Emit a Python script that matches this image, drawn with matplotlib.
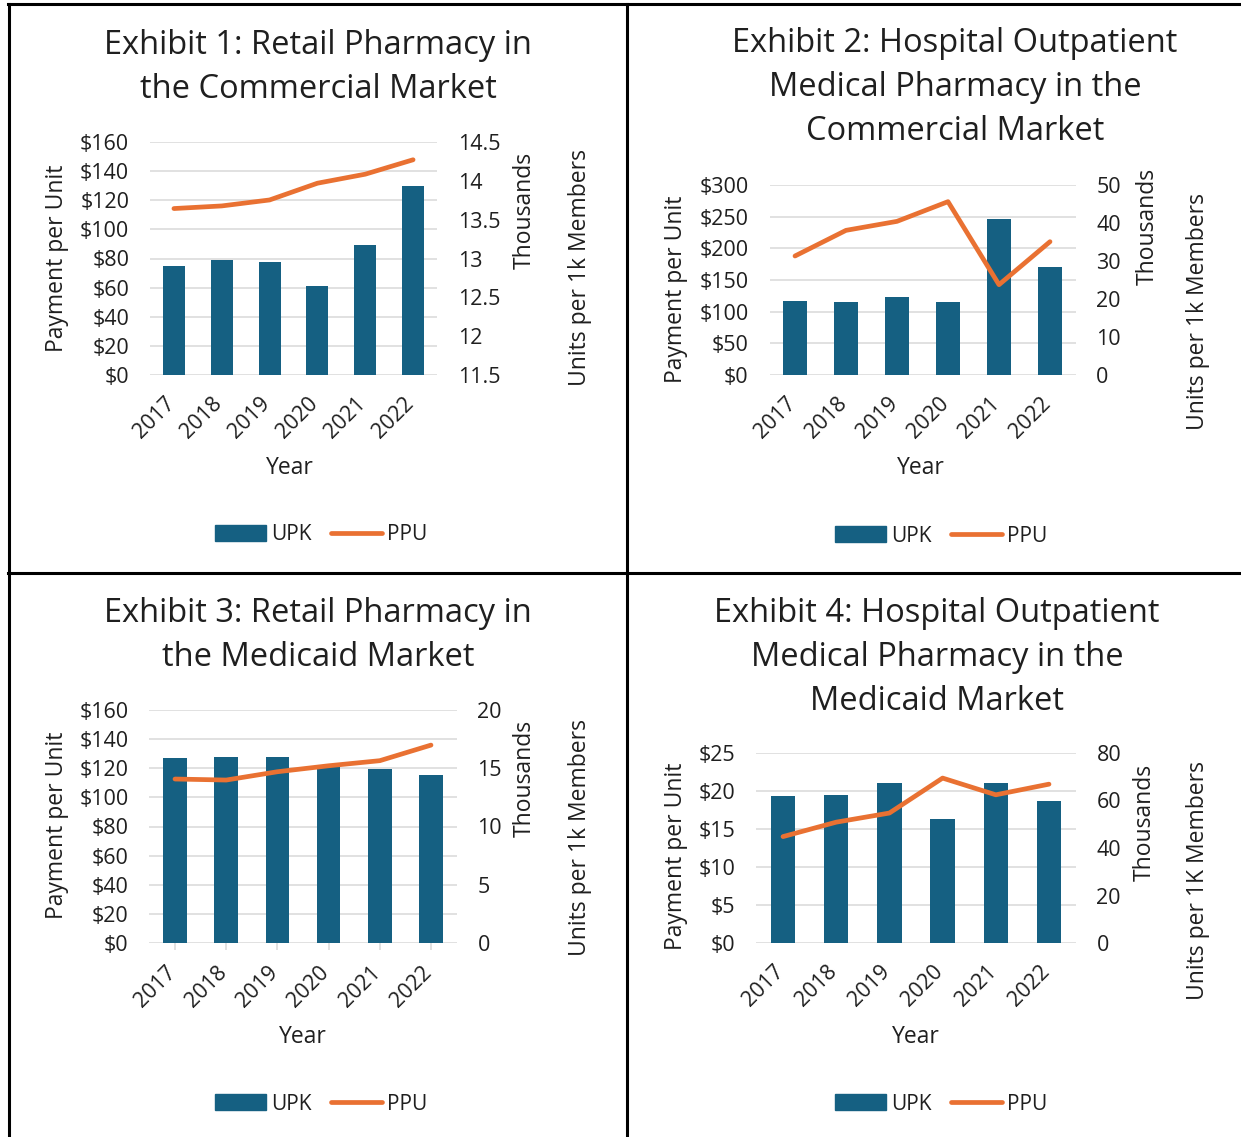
import numpy as np
import matplotlib.pyplot as plt
from matplotlib.patches import Patch
from matplotlib.lines import Line2D
from matplotlib.transforms import ScaledTranslation

plt.rcParams['font.family'] = ['Open Sans', 'DejaVu Sans']

W, H = 1241, 1137

years = ['2017', '2018', '2019', '2020', '2021', '2022']

# UPK in thousands (right axis), PPU in dollars (left axis)
ex1_upk = [12.90, 12.98, 12.96, 12.65, 13.17, 13.93]
ex1_ppu = [114.3, 116.1, 120.2, 131.7, 137.9, 147.8]
ex1_left = [0, 20, 40, 60, 80, 100, 120, 140, 160]
ex1_right = [11.5, 12, 12.5, 13, 13.5, 14, 14.5]

ex2_upk = [19.6, 19.2, 20.6, 19.2, 41.1, 28.5]
ex2_ppu = [187.9, 228.4, 242.6, 273.7, 142.6, 210.5]
ex2_left = [0, 50, 100, 150, 200, 250, 300]
ex2_right = [0, 10, 20, 30, 40, 50]

ex3_upk = [15.88, 15.99, 15.99, 15.3, 14.94, 14.42]
ex3_ppu = [112.6, 111.9, 117.6, 121.7, 125.2, 135.9]
ex3_left = [0, 20, 40, 60, 80, 100, 120, 140, 160]
ex3_right = [0, 5, 10, 15, 20]

ex4_upk = [61.8, 62.4, 67.2, 52.1, 67.2, 59.9]
ex4_ppu = [14.0, 15.9, 17.1, 21.7, 19.5, 20.9]
ex4_left = [0, 5, 10, 15, 20, 25]
ex4_right = [0, 20, 40, 60, 80]

titles = [
    ['Exhibit 1: Retail Pharmacy in', 'the Commercial Market'],
    ['Exhibit 2: Hospital Outpatient', 'Medical Pharmacy in the', 'Commercial Market'],
    ['Exhibit 3: Retail Pharmacy in', 'the Medicaid Market'],
    ['Exhibit 4: Hospital Outpatient', 'Medical Pharmacy in the', 'Medicaid Market'],
]
units_labels = ['Units per 1k Members', 'Units per 1k Members',
                'Units per 1k Members', 'Units per 1K Members']

BAR_C = '#156082'
LINE_C = '#E97132'
GRID_C = '#D9D9D9'
TXT_C = '#1f1f1f'

# layout in pixels: axes box (l, t, r, b), title centre x / line ys,
# label positions and legend centre
layout = [
    dict(box=(150, 142, 437, 375), tx=318, ty=[46, 89],
         pay=(57, 258), thou=(525, 210), units=(580, 268),
         year=(290, 468), leg=(321, 535), cat_ticks=False),
    dict(box=(769.5, 185, 1075.5, 375), tx=955, ty=[44, 87, 131],
         pay=(676, 289), thou=(1148, 226), units=(1198, 312),
         year=(921, 468), leg=(941, 536), cat_ticks=False),
    dict(box=(149.4, 710, 456.6, 943), tx=318, ty=[614, 657],
         pay=(57, 825), thou=(525, 778), units=(580, 837),
         year=(303, 1037), leg=(321, 1104), cat_ticks=True),
    dict(box=(756.4, 753, 1075.6, 943), tx=937, ty=[614, 657, 701],
         pay=(676, 856), thou=(1145, 822), units=(1198, 881),
         year=(916, 1037), leg=(941, 1104), cat_ticks=False),
]


def fx(x):
    return x / W


def fy(y):
    return 1 - y / H


def fmt_num(v):
    return '{:g}'.format(v)


def draw_panel(fig, lay, title, upk, ppu, left_ticks, right_ticks, units_label):
    l, t, r, b = lay['box']
    rect = [fx(l), fy(b), fx(r) - fx(l), fy(t) - fy(b)]

    ax_bar = fig.add_axes(rect)
    ax_line = fig.add_axes(rect, sharex=ax_bar)
    ax_line.patch.set_visible(False)

    x = np.arange(len(years))

    # gridlines follow the left ($) ticks, drawn behind the bars
    lo, hi = left_ticks[0], left_ticks[-1]
    fr = [(v - lo) / (hi - lo) for v in left_ticks]
    ax_bar.hlines(fr, 0, 1, transform=ax_bar.transAxes, color=GRID_C,
                  lw=1.1, zorder=0)

    ax_bar.bar(x, upk, width=0.46, color=BAR_C, zorder=2)
    ax_bar.set_ylim(right_ticks[0], right_ticks[-1])
    ax_bar.set_xlim(-0.5, len(years) - 0.5)
    ax_bar.yaxis.tick_right()
    ax_bar.set_yticks(right_ticks)
    ax_bar.set_yticklabels([fmt_num(v) for v in right_ticks])

    ax_line.plot(x, ppu, color=LINE_C, lw=3.4, solid_capstyle='round',
                 solid_joinstyle='round')
    ax_line.set_ylim(lo, hi)
    ax_line.set_yticks(left_ticks)
    ax_line.set_yticklabels(['$' + fmt_num(v) for v in left_ticks])

    for a in (ax_bar, ax_line):
        for s in a.spines.values():
            s.set_visible(False)
        a.tick_params(axis='y', length=0, labelsize=15.5, pad=15,
                      labelcolor=TXT_C)
    ax_line.tick_params(axis='x', length=0, labelbottom=False)
    if lay['cat_ticks']:
        ax_bar.tick_params(axis='x', length=5, width=1.1, color=GRID_C,
                           pad=9, labelsize=15.5, labelcolor=TXT_C)
    else:
        ax_bar.tick_params(axis='x', length=0, pad=13, labelsize=15.5,
                           labelcolor=TXT_C)
    ax_bar.set_xticks(x)
    ax_bar.set_xticklabels(years, rotation=45, ha='right')
    nudge = ScaledTranslation(0.05, 0, fig.dpi_scale_trans)
    for lab in ax_bar.get_xticklabels():
        lab.set_transform(lab.get_transform() + nudge)

    for i, line in enumerate(title):
        fig.text(fx(lay['tx']), fy(lay['ty'][i]), line, ha='center',
                 va='center', fontsize=23.5, color=TXT_C)

    fig.text(fx(lay['pay'][0]), fy(lay['pay'][1]), 'Payment per Unit',
             rotation=90, ha='center', va='center', fontsize=16.5, color=TXT_C)
    fig.text(fx(lay['thou'][0]), fy(lay['thou'][1]), 'Thousands',
             rotation=90, ha='center', va='center', fontsize=16.5, color=TXT_C)
    fig.text(fx(lay['units'][0]), fy(lay['units'][1]), units_label,
             rotation=90, ha='center', va='center', fontsize=16.5, color=TXT_C)
    fig.text(fx(lay['year'][0]), fy(lay['year'][1]), 'Year',
             ha='center', va='center', fontsize=16.5, color=TXT_C)

    handles = [Patch(color=BAR_C, label='UPK'),
               Line2D([], [], color=LINE_C, lw=3.4, solid_capstyle='round',
                      label='PPU')]
    fig.legend(handles=handles, loc='center',
               bbox_to_anchor=(fx(lay['leg'][0]), fy(lay['leg'][1])),
               ncol=2, frameon=False, fontsize=15, handlelength=2.45,
               handleheight=0.8, handletextpad=0.25, columnspacing=0.9,
               labelcolor=TXT_C)


fig = plt.figure(figsize=(W / 100, H / 100), dpi=100)

draw_panel(fig, layout[0], titles[0], ex1_upk, ex1_ppu, ex1_left, ex1_right, units_labels[0])
draw_panel(fig, layout[1], titles[1], ex2_upk, ex2_ppu, ex2_left, ex2_right, units_labels[1])
draw_panel(fig, layout[2], titles[2], ex3_upk, ex3_ppu, ex3_left, ex3_right, units_labels[2])
draw_panel(fig, layout[3], titles[3], ex4_upk, ex4_ppu, ex4_left, ex4_right, units_labels[3])

# panel borders
for (x0, y0, x1, y1) in [(8, 4, W, 4), (8, 573, W, 573),
                         (8.5, 4, 8.5, H), (627, 4, 627, H)]:
    fig.add_artist(Line2D([fx(x0), fx(x1)], [fy(y0), fy(y1)],
                          color='black', lw=2.2))

fig.savefig('out.png', dpi=100)
